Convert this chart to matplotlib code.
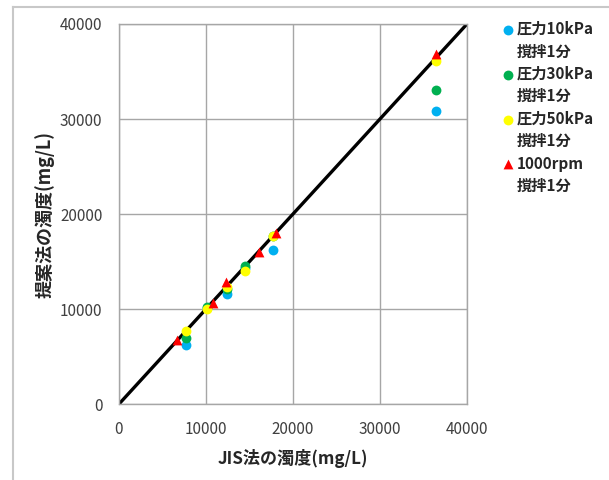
import matplotlib
matplotlib.use("Agg")
import matplotlib.pyplot as plt
from matplotlib.lines import Line2D

plt.rcParams['font.family'] = ['Noto Sans CJK JP', 'DejaVu Sans']

# JIS method turbidity (x) vs proposed method turbidity (y), mg/L
x_10k = [7750, 10150, 12450, 14500, 17750, 36450]
y_10k = [6200, 10100, 11550, 14300, 16250, 30800]

x_30k = [7750, 10150, 12450, 14500, 17750, 36450]
y_30k = [6950, 10200, 12100, 14550, 17700, 33050]

x_50k = [7750, 10150, 12450, 14500, 17750, 36450]
y_50k = [7650, 10050, 12300, 14000, 17650, 36150]

x_rpm = [6700, 10750, 12350, 16050, 18050, 36450]
y_rpm = [6750, 10600, 12850, 16000, 18000, 36800]

names = ["圧力10kPa", "圧力30kPa", "圧力50kPa", "1000rpm"]
sub = "撹拌1分"
ticks = [0, 10000, 20000, 30000, 40000]

fig = plt.figure(figsize=(6.09, 4.8), dpi=100)
ax = fig.add_axes([0.1954, 0.1583, 0.5714, 0.7917])

# 1:1 line
ax.plot([0, 40000], [0, 40000], color="black", linewidth=2.4, zorder=2)

ms = 50
h1 = ax.scatter(x_10k, y_10k, s=ms, color="#00B0F0", zorder=3, linewidths=0)
h2 = ax.scatter(x_30k, y_30k, s=ms, color="#00B050", zorder=4, linewidths=0)
h3 = ax.scatter(x_50k, y_50k, s=ms, color="#FFFF00", zorder=5, linewidths=0)
h4 = ax.scatter(x_rpm, y_rpm, s=ms, color="#FF0000", marker="^", zorder=6, linewidths=0)

ax.set_xlim(0, 40000)
ax.set_ylim(0, 40000)
ax.set_xticks(ticks)
ax.set_yticks(ticks)
ax.grid(True, color="#A6A6A6", linewidth=1.0)
ax.set_axisbelow(True)
for sp in ax.spines.values():
    sp.set_color("#A6A6A6")
    sp.set_linewidth(1.0)
ax.tick_params(length=0, pad=12, labelsize=11, labelcolor="#404040")

ax.set_xlabel("JIS法の濁度(mg/L)", fontsize=12.3, fontweight="bold", color="#262626", labelpad=8)
ax.set_ylabel("提案法の濁度(mg/L)", fontsize=13, fontweight="bold", color="#262626", labelpad=4)

# legend: each series label on two rows, marker beside the first row
blank = Line2D([], [], linestyle="none")
handles, labels = [], []
for h, n in zip([h1, h2, h3, h4], names):
    handles += [h, blank]
    labels += [n, sub]
leg = fig.legend(handles, labels, loc="upper left",
                 bbox_to_anchor=(502 / 609, 1 - 21 / 480), frameon=False,
                 fontsize=11, handletextpad=0.19, handlelength=0.8,
                 labelspacing=0.42, borderpad=0, borderaxespad=0)
for t in leg.get_texts():
    t.set_color("#262626")
    t.set_fontweight("bold")

# light grey screenshot frame at top and left
fig.add_artist(Line2D([13 / 609, 13 / 609], [0, 1 - 7 / 480], color="#C8C8C8", linewidth=1.5))
fig.add_artist(Line2D([13 / 609, 1], [1 - 7 / 480, 1 - 7 / 480], color="#C8C8C8", linewidth=1.5))

fig.savefig("out.png", dpi=100)
